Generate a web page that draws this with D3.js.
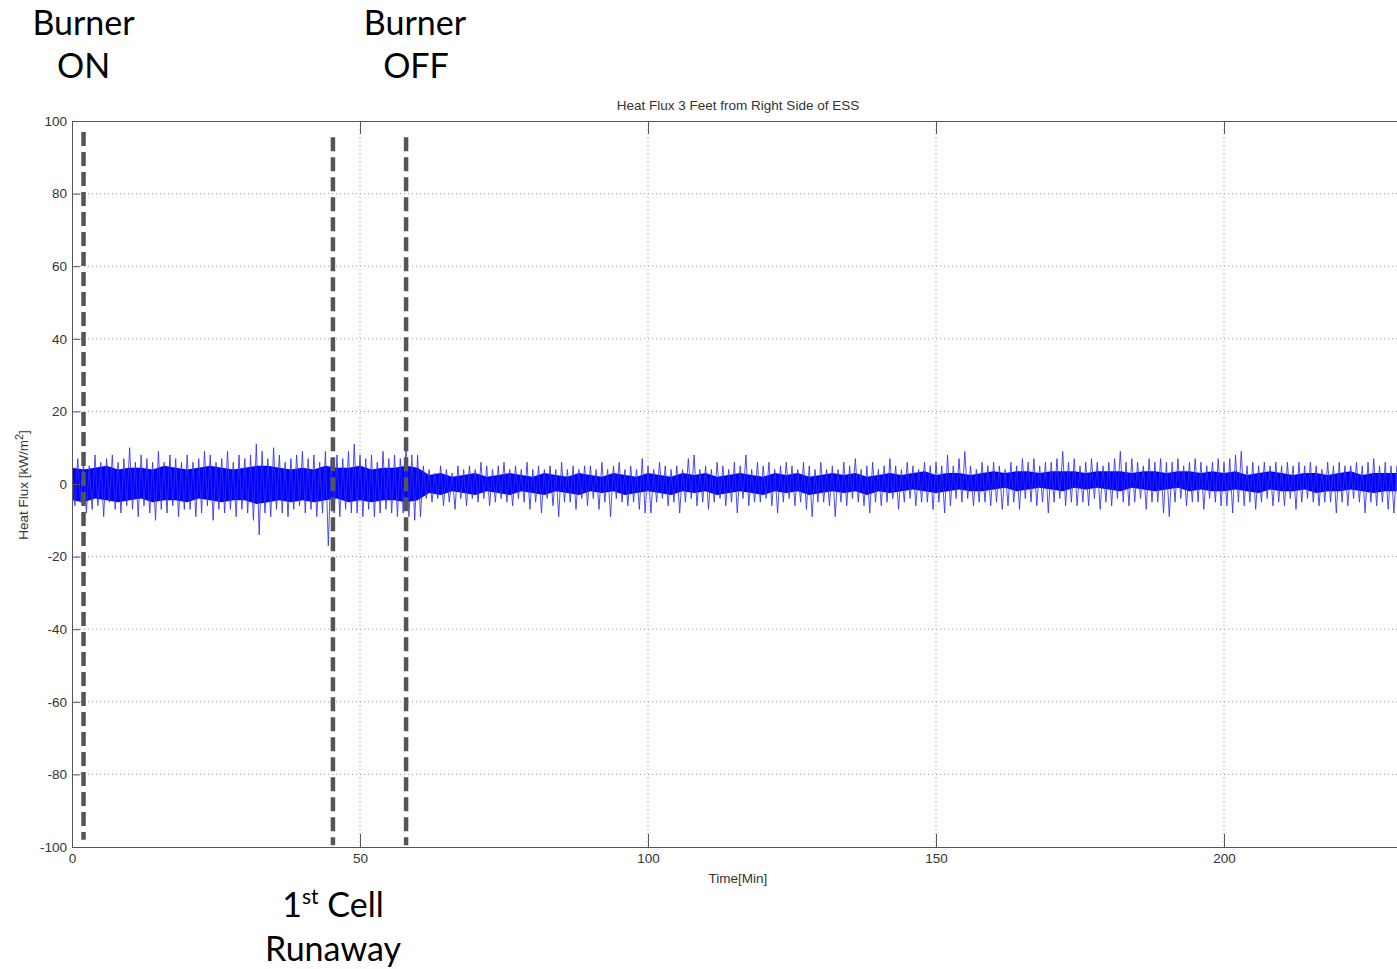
<!DOCTYPE html>
<html lang="en">
<head>
<meta charset="UTF-8">
<title>Heat Flux 3 Feet from Right Side of ESS</title>
<script src="https://cdn.jsdelivr.net/npm/d3@7"></script>
<style>
  * { margin: 0; padding: 0; box-sizing: border-box; }
  body { background: #fff; width: 1397px; height: 969px; overflow: hidden; }
  svg { display: block; }
  .axis text { font-family: Arial, 'Liberation Sans', sans-serif; font-size: 13.5px; fill: #333; }
  .axis path, .axis line { stroke: #555; }
  .grid line { stroke: #999; stroke-width: 1; stroke-dasharray: 1,3; }
  .plot-label { font-family: Arial, 'Liberation Sans', sans-serif; font-size: 13.5px; fill: #333; }
  .note { font-family: Lato, 'Open Sans', sans-serif; font-size: 34px; fill: #000; }
</style>
</head>
<body>
<svg id="chart" width="1397" height="969"></svg>
<script>
// ─── Data ────────────────────────────────────────────────────────────────────

// heat flux signal, one value every half minute, starting at t = 0 [kW/m²]
const timeStep = 0.5;
const flux = [
  4,-6,7,-5,6,-8,5,-7,8,-6,6,-9,7,-5,8,-7,6,-8,7,-6,
  10,-7,6,-9,8,-6,7,-8,6,-10,9,-7,6,-8,8,-6,7,-9,6,-7,
  8,-7,6,-9,7,-8,9,-6,8,-10,6,-7,7,-8,9,-7,6,-9,8,-7,
  7,-8,8,-10,11,-14,9,-8,7,-9,10,-7,8,-8,6,-9,7,-7,8,-6,
  9,-8,7,-7,8,-9,6,-8,9,-17,7,-8,8,-9,7,-7,9,-8,11,-8,
  8,-9,7,-7,8,-9,6,-8,9,-7,7,-8,8,-9,7,-8,10,-9,8,-10,
  8,-9,5,-4,4,-5,3,-4,5,-6,4,-5,3,-7,5,-4,4,-6,5,-4,
  4,-5,6,-4,5,-6,4,-5,5,-4,6,-5,4,-6,5,-4,4,-5,6,-7,
  4,-5,5,-8,4,-4,5,-6,4,-9,6,-5,4,-5,5,-7,4,-4,5,-6,
  5,-4,4,-7,6,-5,4,-9,5,-4,6,-5,4,-6,5,-5,4,-7,7,-8,
  5,-8,4,-5,6,-4,5,-6,4,-5,5,-8,4,-5,7,-4,8,-6,4,-5,
  5,-7,4,-5,6,-4,5,-6,4,-5,6,-8,5,-4,8,-6,4,-5,6,-5,
  5,-4,6,-6,4,-8,5,-5,6,-4,5,-6,4,-5,6,-7,5,-9,4,-5,
  6,-5,4,-6,5,-9,4,-5,6,-6,5,-4,7,-5,4,-6,5,-8,6,-5,
  4,-6,5,-5,7,-4,5,-7,4,-5,6,-4,5,-6,4,-5,6,-5,5,-7,
  6,-5,5,-8,8,-6,5,-4,7,-5,9,-4,5,-6,4,-5,6,-5,5,-6,
  6,-5,5,-7,4,-6,6,-5,5,-7,7,-4,6,-5,7,-6,5,-5,6,-8,
  6,-5,7,-4,9,-6,6,-5,7,-6,5,-5,6,-6,7,-4,6,-7,5,-5,
  6,-6,7,-4,9,-5,6,-6,7,-5,6,-4,5,-7,7,-5,6,-5,7,-8,
  6,-9,6,-5,7,-4,5,-6,6,-5,7,-5,6,-7,5,-4,6,-5,7,-6,
  6,-6,7,-8,8,-5,9,-6,5,-5,6,-7,5,-5,6,-4,5,-6,6,-5,
  5,-6,6,-4,5,-7,6,-5,5,-4,6,-5,5,-6,4,-5,6,-5,5,-8,
  6,-5,5,-6,5,-4,6,-5,5,-8,6,-5,7,-6,5,-5,6,-7,5,-8,
  5
];

// dense core of the noise band, one hi/lo pair every 2 minutes from t = 0
const coreStep = 2;
const coreHi = [
  4.5,4,4.5,5,4,4.5,4.5,4,5,4.5,
  4,4.5,5,4.5,4,4.5,5,5,4.5,4,
  4.5,4,5,4.5,4.5,5,4,4.5,4.5,5,
  4.5,2.5,3,2,2.5,3,2,2.5,3,2.5,
  2,3,2.5,2,3,2.5,2,3,2.5,2,
  3,2.5,2,3,2.5,3,2,2.5,3,2.5,
  2,3,2.5,3,2,2.5,3,2.5,3,2,
  2.5,3,2.5,3,3.5,2.5,3,3,2.5,3,
  3.5,3,3.5,3.5,3,3.5,3.5,3.5,3,3.5,
  3.5,3.5,3,3.5,3.5,3,3.5,3.5,3,3.5,
  3,3.5,2.5,3,3.5,3,2.5,3,3,2.5,
  3,3.5,2.5,3,3,3
];
const coreLo = [
  -4.5,-5,-4,-4.5,-5,-4.5,-4,-5,-4.5,-4.5,
  -5,-4,-4.5,-5,-4.5,-4.5,-5.5,-5,-4.5,-5,
  -4.5,-5,-4.5,-4,-5,-4.5,-5,-4.5,-4.5,-5,
  -4.5,-2.5,-3,-2,-2.5,-3,-2,-2.5,-3,-2,
  -2.5,-3,-2,-2.5,-3,-2,-2.5,-2,-3,-2.5,
  -2,-2.5,-3,-2,-2.5,-2,-3,-2.5,-2,-2.5,
  -3,-2,-2.5,-2,-3,-2.5,-2,-2.5,-2,-3,
  -2,-2.5,-2,-1.5,-2,-2.5,-2,-1.5,-2,-2,
  -1.5,-1,-2,-1.5,-1,-1.5,-2,-1,-1.5,-1,
  -1.5,-2,-1,-1.5,-2,-1.5,-1,-2,-1.5,-2,
  -2,-1.5,-2,-2.5,-1.5,-2,-2,-1.5,-2.5,-2,
  -2,-1.5,-2,-2.5,-2,-2
];

// event markers (dashed lines)
const markerTime   = [2, 45.3, 58];
const markerTop    = [97, 95.5, 95.5];
const markerBottom = [-98, -99.5, -99.5];

// axes
const xTicks = [0, 50, 100, 150, 200];
const yTicks = [-100, -80, -60, -40, -20, 0, 20, 40, 60, 80, 100];

// ─── Layout ──────────────────────────────────────────────────────────────────

const plotLeft = 72, plotTop = 121, plotBottom = 847;
const pxPerMin = 5.76;
const xMax = 240;

const x = d3.scaleLinear().domain([0, xMax]).range([plotLeft, plotLeft + xMax * pxPerMin]);
const y = d3.scaleLinear().domain([-100, 100]).range([plotBottom, plotTop]);

const svg = d3.select('#chart');
svg.append('rect').attr('width', 1397).attr('height', 969).attr('fill', '#fff');

svg.append('clipPath').attr('id', 'plot-clip')
  .append('rect')
  .attr('x', plotLeft).attr('y', plotTop)
  .attr('width', x(xMax) - plotLeft).attr('height', plotBottom - plotTop);

// ─── Grid ────────────────────────────────────────────────────────────────────

const grid = svg.append('g').attr('class', 'grid');
grid.selectAll('.gx')
  .data(xTicks.filter(d => d > 0))
  .enter().append('line')
  .attr('x1', d => x(d)).attr('x2', d => x(d))
  .attr('y1', plotTop).attr('y2', plotBottom);
grid.selectAll('.gy')
  .data(yTicks.filter(d => d > -100 && d < 100))
  .enter().append('line')
  .attr('x1', plotLeft).attr('x2', x(xMax))
  .attr('y1', d => y(d)).attr('y2', d => y(d));

// ─── Signal ──────────────────────────────────────────────────────────────────

const plot = svg.append('g').attr('clip-path', 'url(#plot-clip)');

plot.append('path')
  .datum(coreHi)
  .attr('fill', '#0000ff')
  .attr('d', d3.area()
    .x((d, i) => x(i * coreStep))
    .y0((d, i) => y(coreLo[i]))
    .y1(d => y(d)));

plot.append('path')
  .datum(flux)
  .attr('fill', 'none')
  .attr('stroke', '#3030ee')
  .attr('stroke-opacity', 0.85)
  .attr('stroke-width', 1)
  .attr('d', d3.line()
    .x((d, i) => x(i * timeStep))
    .y(d => y(d)));

// ─── Axes ────────────────────────────────────────────────────────────────────

svg.append('g')
  .attr('class', 'axis')
  .attr('transform', `translate(0,${plotBottom})`)
  .call(d3.axisBottom(x).tickValues(xTicks).tickFormat(d => String(d))
    .tickSizeInner(-13).tickSizeOuter(0).tickPadding(6));

svg.append('g')
  .attr('class', 'axis')
  .attr('transform', `translate(0,${plotTop})`)
  .call(d3.axisTop(x).tickValues(xTicks).tickFormat('')
    .tickSizeInner(-13).tickSizeOuter(0));

svg.append('g')
  .attr('class', 'axis')
  .attr('transform', `translate(${plotLeft},0)`)
  .call(d3.axisLeft(y).tickValues(yTicks).tickFormat(d => String(d))
    .tickSizeInner(-8).tickSizeOuter(0).tickPadding(5));

// ─── Markers ─────────────────────────────────────────────────────────────────

svg.selectAll('.marker')
  .data(markerTime)
  .enter().append('line')
  .attr('class', 'marker')
  .attr('x1', d => x(d)).attr('x2', d => x(d))
  .attr('y1', (d, i) => y(markerTop[i]))
  .attr('y2', (d, i) => y(markerBottom[i]))
  .attr('stroke', '#555')
  .attr('stroke-width', 4.5)
  .attr('stroke-dasharray', '14,6');

// ─── Labels ──────────────────────────────────────────────────────────────────

svg.append('text').attr('class', 'plot-label')
  .attr('x', 738).attr('y', 110).attr('text-anchor', 'middle')
  .text('Heat Flux 3 Feet from Right Side of ESS');

svg.append('text').attr('class', 'plot-label')
  .attr('x', 738).attr('y', 883).attr('text-anchor', 'middle')
  .text('Time[Min]');

const yLabel = svg.append('text').attr('class', 'plot-label')
  .attr('transform', 'translate(28,485) rotate(-90)')
  .attr('text-anchor', 'middle');
yLabel.append('tspan').text('Heat Flux [kW/m');
yLabel.append('tspan').attr('dy', -5).attr('font-size', 11).text('2');
yLabel.append('tspan').attr('dy', 5).text(']');

const note = (cx, cy, txt) => svg.append('text').attr('class', 'note')
  .attr('x', cx).attr('y', cy).attr('text-anchor', 'middle').text(txt);

note(x(markerTime[0]), 35, 'Burner');
note(x(markerTime[0]), 78, 'ON');
note(415, 35, 'Burner');
note(416, 78, 'OFF');
note(333, 961, 'Runaway');

const cell = svg.append('text').attr('class', 'note')
  .attr('x', 333).attr('y', 917).attr('text-anchor', 'middle');
cell.append('tspan').text('1');
cell.append('tspan').attr('dy', -13).attr('font-size', 21).text('st');
cell.append('tspan').attr('dy', 13).text(' Cell');
</script>
</body>
</html>
